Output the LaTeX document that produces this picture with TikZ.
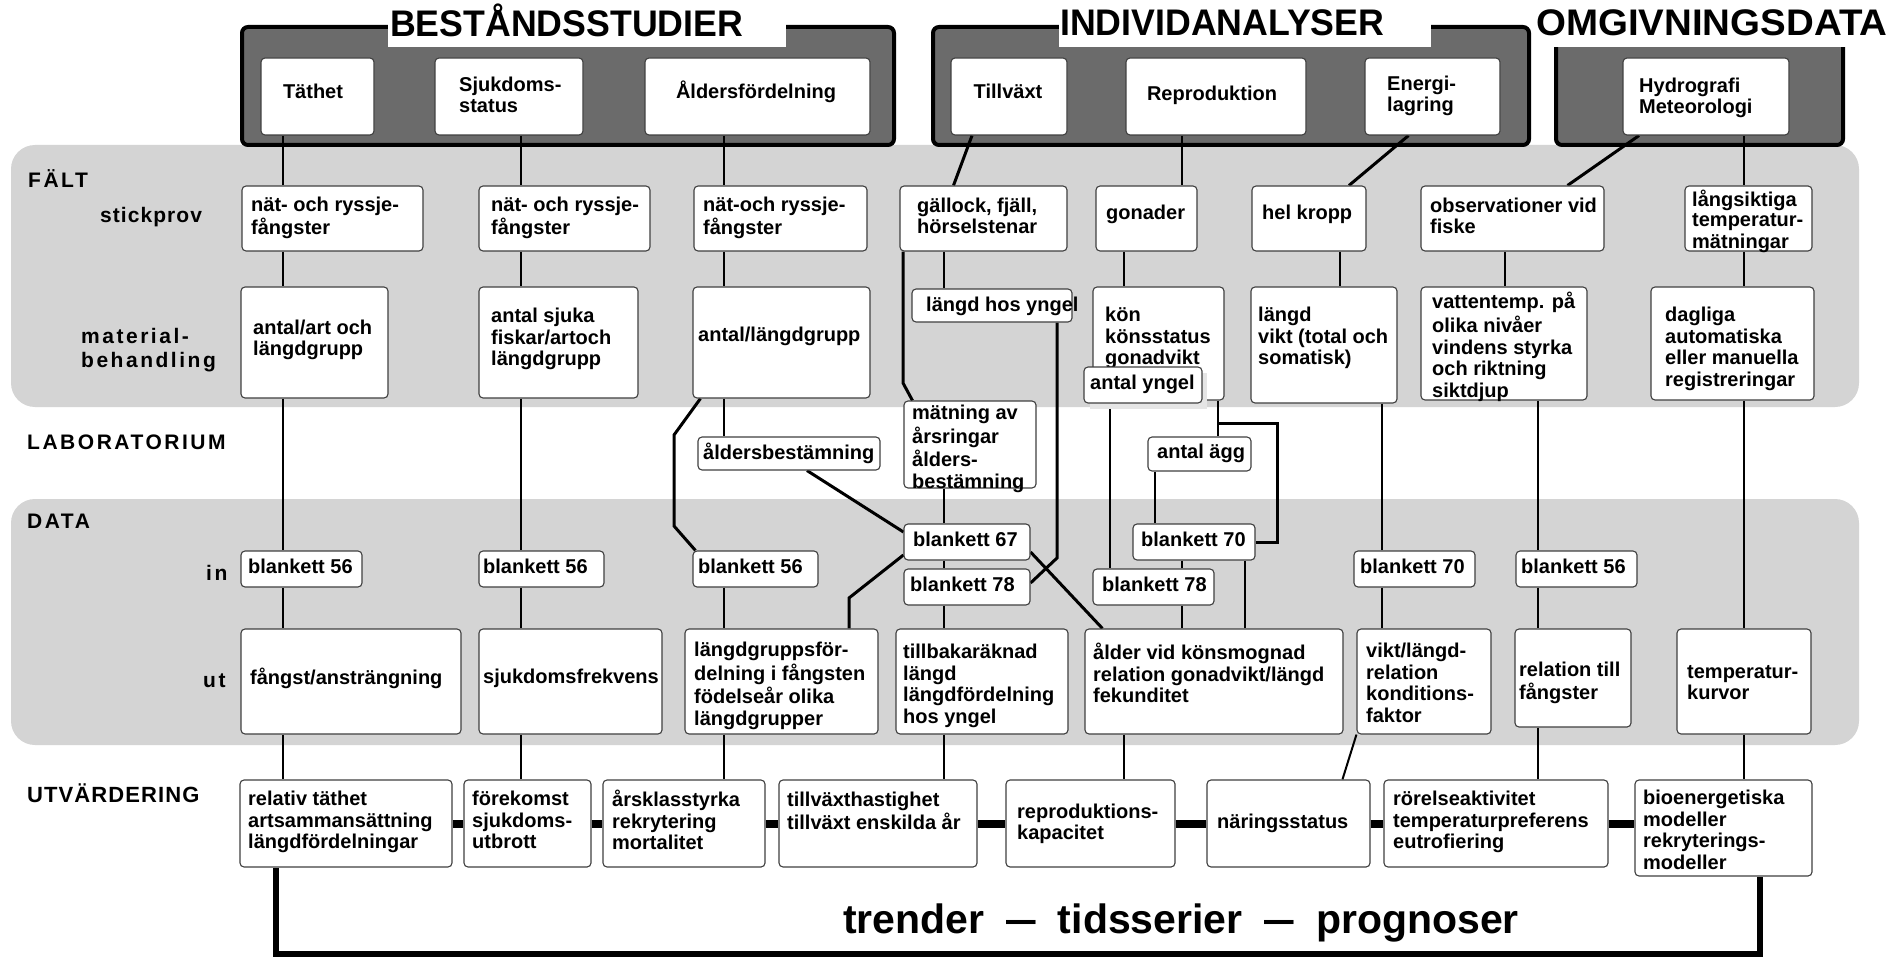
\documentclass[tikz,border=0pt]{standalone}
\usepackage{fontspec}
\usepackage{graphicx}
\setmainfont{Liberation Sans}
\newfontfamily\labfam{Liberation Sans}[LetterSpace=12]
\newfontfamily\labfamb{Liberation Sans}[LetterSpace=5]
\usetikzlibrary{fit,calc}
\pgfdeclarelayer{back}
\pgfdeclarelayer{lines}
\pgfsetlayers{back,lines,main}
\newcommand\txtf{\fontsize{20}{20.5}\selectfont\bfseries}
\newcommand\labf{\labfam\fontsize{21}{24}\selectfont\bfseries}
\newcommand\labfb{\labfamb\fontsize{21}{24}\selectfont\bfseries}
\newcommand\ttlf{\fontsize{37}{37}\selectfont\bfseries}
\newcommand\brk{\\\strut}
\tikzset{
  wbox/.style={draw=black!75, line width=1.1pt, fill=white, rounded corners=4pt, inner sep=0pt},
  txt/.style={inner sep=0pt, align=left, font=\txtf, anchor=west},
  conn/.style={line width=2pt},
  conn2/.style={line width=3pt},
  dark/.style={draw=black, line width=4pt, fill=black!58, rounded corners=6pt, inner sep=0pt},
  band/.style={fill=black!17, rounded corners=24pt},
  ttl/.style={fill=white, inner sep=0pt, font=\ttlf, align=left, anchor=south west},
  lab/.style={inner sep=0pt, font=\labf, anchor=base west},
  bar/.style={line width=8pt},
  bracket/.style={line width=6pt},
}
% #1 style of text, #2 name, #3-#6 box corners, #7 #8 text position, #9 text
\newcommand\tb[9][txt]{%
  \node[wbox, fit={(#3,#4) (#5,#6)}] (#2) {};
  \node[#1] (#2t) at (#7,#8) {#9};}
\begin{document}
\begin{tikzpicture}[x=1pt,y=-1pt]
\useasboundingbox (0,0) rectangle (1899,960);

\begin{pgfonlayer}{back}
  \fill[white] (0,0) rectangle (1899,960);
  \fill[band] (11,145) rectangle (1859,407);
  \fill[band] (11,499) rectangle (1859,745);
  \node[dark, fit={(242,27) (894,145)}] (DA) {};
  \node[dark, fit={(933,27) (1529,145)}] (DB) {};
  \node[dark, fit={(1556,27) (1843,145)}] (DC) {};
  \node[ttl, text width=398pt, text height=37pt, text depth=10pt] (TA) at (388,47)
    {\hspace*{2pt}\scalebox{0.965}[1]{BESTÅNDSSTUDIER}};
  \node[ttl, text width=372pt, text height=36pt, text depth=11pt] (TB) at (1059,47)
    {\hspace*{1pt}\scalebox{0.965}[1]{INDIVIDANALYSER}};
  \node[ttl, text width=364pt, text height=36pt, text depth=11pt] (TC) at (1535,47)
    {\hspace*{1pt}\scalebox{1.04}[1]{OMGIVNINGSDATA}};
\end{pgfonlayer}

% row labels
\node[lab] (LF) at (28,188) {FÄLT};
\node[lab, font=\labfb] (LS) at (100,223) {stickprov};
\node[inner sep=0pt, font=\labf, align=left, anchor=west] (LM) at (81,351) {\strut material-\\\strut behandling};
\node[lab] (LL) at (27,449) {LABORATORIUM};
\node[lab] (LD) at (27,528) {DATA};
\node[lab] (LI) at (206,580) {in};
\node[lab] (LT) at (203,687) {ut};
\node[lab, font=\labfb\fontsize{22}{24}\selectfont] (LU) at (27,802) {UTVÄRDERING};

% title boxes
\tb[txt,anchor=center]{tA1}{261}{58}{374}{135}{313}{94}{\strut Täthet}
\tb{tA2}{435}{58}{583}{135}{459}{98}{\strut Sjukdoms-\brk status}
\tb[txt,anchor=center]{tA3}{645}{58}{870}{135}{756}{93}{\strut Åldersfördelning}
\tb[txt,anchor=center]{tB1}{951}{58}{1067}{135}{1008}{94}{\strut Tillväxt}
\tb[txt,anchor=center]{tB2}{1126}{58}{1306}{135}{1212}{96}{\strut Reproduktion}
\tb{tB3}{1365}{58}{1500}{135}{1387}{97}{\strut Energi-\brk lagring}
\tb{tC1}{1623}{58}{1789}{135}{1639}{99}{\strut Hydrografi\brk Meteorologi}

% stickprov
\tb{s1}{242}{186}{423}{251}{251}{219}{\strut nät- och ryssje-\brk fångster}
\tb{s2}{479}{186}{650}{251}{491}{219}{\strut nät- och ryssje-\brk fångster}
\tb{s3}{694}{186}{867}{251}{703}{219}{\strut nät-och ryssje-\brk fångster}
\tb{s4}{900}{186}{1067}{251}{917}{219}{\strut gällock, fjäll,\brk hörselstenar}
\tb{s5}{1096}{186}{1197}{251}{1106}{215}{\strut gonader}
\tb{s6}{1252}{186}{1366}{251}{1262}{215}{\strut hel kropp}
\tb{s7}{1421}{186}{1604}{251}{1430}{219}{\strut observationer vid\brk fiske}
\tb{s8}{1685}{186}{1812}{251}{1692}{222}{\strut långsiktiga\brk temperatur-\brk mätningar}

% materialbehandling
\tb{m1}{241}{287}{388}{398}{253}{341}{\strut antal/art och\brk längdgrupp}
\tb{m2}{479}{287}{638}{398}{491}{340}{\strut antal sjuka\brk fiskar/artoch\brk längdgrupp}
\tb{m3}{693}{287}{870}{398}{698}{337}{\strut antal/längdgrupp}
\tb{m4}{912}{289}{1072}{322}{926}{307}{\strut längd hos yngel}
\tb{m5}{1093}{287}{1224}{400}{1105}{339}{\strut kön\brk könsstatus\brk gonadvikt}
\fill[black!10] (1090,373) rectangle (1207,409);
\tb{m6}{1084}{367}{1202}{403}{1090}{385}{\strut antal yngel}
\tb{m7}{1251}{287}{1397}{403}{1258}{339}{\strut längd\brk vikt (total och\brk somatisk)}
\tb{m8}{1421}{287}{1587}{400}{1432}{348}{\strut vattentemp. på\brk olika nivåer\brk vindens styrka\brk och riktning\brk siktdjup}
\tb{m9}{1651}{287}{1814}{400}{1665}{350}{\strut dagliga\brk automatiska\brk eller manuella\brk registreringar}

% laboratorium
\tb{l1}{698}{437}{880}{470}{703}{454}{\strut åldersbestämning}
\tb{l2}{904}{401}{1036}{488}{912}{450}{\strut mätning av\brk årsringar\brk ålders-\brk bestämning}
\tb{l3}{1148}{437}{1251}{471}{1157}{454}{\strut antal ägg}

% data in
\tb{d1}{241}{551}{362}{587}{248}{569}{\strut blankett 56}
\tb{d2}{479}{551}{604}{587}{483}{569}{\strut blankett 56}
\tb{d3}{693}{551}{818}{587}{698}{569}{\strut blankett 56}
\tb{d4}{904}{524}{1030}{560}{913}{542}{\strut blankett 67}
\tb{d5}{904}{569}{1030}{605}{910}{587}{\strut blankett 78}
\tb{d6}{1133}{524}{1255}{560}{1141}{542}{\strut blankett 70}
\tb{d7}{1093}{569}{1214}{605}{1102}{587}{\strut blankett 78}
\tb{d8}{1354}{551}{1475}{587}{1360}{569}{\strut blankett 70}
\tb{d9}{1516}{551}{1637}{587}{1521}{569}{\strut blankett 56}

% data ut
\tb{u1}{241}{629}{461}{734}{250}{679}{\strut fångst/ansträngning}
\tb{u2}{479}{629}{662}{734}{483}{679}{\strut sjukdomsfrekvens}
\tb{u3}{685}{629}{878}{734}{694}{687}{\strut längdgruppsför-\brk delning i fångsten\brk födelseår olika\brk längdgrupper}
\tb{u4}{896}{629}{1068}{734}{903}{687}{\strut tillbakaräknad\brk längd\brk längdfördelning\brk hos yngel}
\tb{u5}{1085}{629}{1343}{734}{1093}{676}{\strut ålder vid könsmognad\brk relation gonadvikt/längd\brk fekunditet}
\tb{u6}{1357}{629}{1491}{734}{1366}{686}{\strut vikt/längd-\brk relation\brk konditions-\brk faktor}
\tb{u7}{1515}{629}{1631}{727}{1519}{684}{\strut relation till\brk fångster}
\tb{u8}{1677}{629}{1811}{734}{1687}{685}{\strut temperatur-\brk kurvor}

% utvardering
\tb{v1}{240}{780}{452}{867}{248}{823}{\strut relativ täthet\brk artsammansättning\brk längdfördelningar}
\tb{v2}{464}{780}{591}{867}{472}{823}{\strut förekomst\brk sjukdoms-\brk utbrott}
\tb{v3}{603}{780}{765}{867}{612}{823}{\strut årsklasstyrka\brk rekrytering\brk mortalitet}
\tb{v4}{779}{780}{977}{867}{787}{814}{\strut tillväxthastighet\brk tillväxt enskilda år}
\tb{v5}{1006}{780}{1175}{867}{1017}{825}{\strut reproduktions-\brk kapacitet}
\tb{v6}{1207}{780}{1370}{867}{1217}{824}{\strut näringsstatus}
\tb{v7}{1384}{780}{1608}{867}{1393}{823}{\strut rörelseaktivitet\brk temperaturpreferens\brk eutrofiering}
\tb{v8}{1635}{780}{1812}{876}{1643}{833}{\strut bioenergetiska\brk modeller\brk rekryterings-\brk modeller}

\node[inner sep=0pt, anchor=base, font=\fontsize{41}{41}\selectfont\bfseries] (TR) at (1181,933)
  {trender\hspace{22pt}\scalebox{0.72}[1]{—}\hspace{22pt}tidsserier\hspace{22pt}\scalebox{0.72}[1]{—}\hspace{22pt}prognoser};

% column coordinates
\coordinate (c1) at (283,0);
\coordinate (c2) at (521,0);
\coordinate (c3) at (724,0);
\coordinate (c4a) at (903,0);
\coordinate (c4) at (944,0);
\coordinate (c4y) at (1057,0);
\coordinate (c5y) at (1110,0);
\coordinate (c5g) at (1124,0);
\coordinate (c5e) at (1155,0);
\coordinate (c5r) at (1182,0);
\coordinate (c5a) at (1218,0);
\coordinate (c5c) at (1245,0);
\coordinate (c5b) at (1277,0);
\coordinate (c6) at (1340,0);
\coordinate (c6b) at (1382,0);
\coordinate (c7) at (1505,0);
\coordinate (c7b) at (1538,0);
\coordinate (c8) at (1744,0);
\coordinate (p1) at (674,435);
\coordinate (p2) at (674,526);
\coordinate (p3) at (849,598);
\coordinate (p4) at (903,383);
\coordinate (p5) at (1057,558);
\coordinate (kb) at (1218,423);
\coordinate (bl) at (276,954);
\coordinate (br) at (1760,954);

\begin{pgfonlayer}{lines}
  % column 1
  \draw[conn] (tA1.south -| c1) -- (s1.north -| c1);
  \draw[conn] (s1.south -| c1) -- (m1.north -| c1);
  \draw[conn] (m1.south -| c1) -- (d1.north -| c1);
  \draw[conn] (d1.south -| c1) -- (u1.north -| c1);
  \draw[conn] (u1.south -| c1) -- (v1.north -| c1);
  % column 2
  \draw[conn] (tA2.south -| c2) -- (s2.north -| c2);
  \draw[conn] (s2.south -| c2) -- (m2.north -| c2);
  \draw[conn] (m2.south -| c2) -- (d2.north -| c2);
  \draw[conn] (d2.south -| c2) -- (u2.north -| c2);
  \draw[conn] (u2.south -| c2) -- (v2.north -| c2);
  % column 3
  \draw[conn] (tA3.south -| c3) -- (s3.north -| c3);
  \draw[conn] (s3.south -| c3) -- (m3.north -| c3);
  \draw[conn] (m3.south -| c3) -- (l1.north -| c3);
  \draw[conn2] ([xshift=8pt]m3.south west) -- (p1) -- (p2) -- ([xshift=3pt]d3.north west);
  \draw[conn2] ([xshift=18pt]l1.south) -- ([yshift=10pt]d4.west);
  \draw[conn2] ([yshift=-13pt]d4.west) -- (p3) -- (u3.north -| p3);
  \draw[conn] (d3.south -| c3) -- (u3.north -| c3);
  \draw[conn] (u3.south -| c3) -- (v3.north -| c3);
  % column 4
  \draw[conn2] ([xshift=-37pt]tB1.south) -- ([xshift=-30pt]s4.north);
  \draw[conn2] (s4.south -| c4a) -- (p4) -- ([xshift=9pt]l2.north west);
  \draw[conn] (s4.south -| c4) -- (m4.north -| c4);
  \draw[conn] (l2.south -| c4) -- (d4.north -| c4);
  \draw[conn] (d4.south -| c4) -- (d5.north -| c4);
  \draw[conn] (d5.south -| c4) -- (u4.north -| c4);
  \draw[conn] (u4.south -| c4) -- (v4.north -| c4);
  \draw[conn2] (m4.south -| c4y) -- (p5) -- ([yshift=4pt]d5.east);
  \draw[conn2] ([yshift=-10pt]d4.east) -- ([xshift=18pt]u5.north west);
  % column 5
  \draw[conn] (tB2.south -| c5r) -- (s5.north -| c5r);
  \draw[conn] (s5.south -| c5g) -- (m5.north -| c5g);
  \draw[conn] (m5.south -| c5a) -- (l3.north -| c5a);
  \draw[conn2] (kb) -| (c5b |- d6.east) -- (d6.east);
  \draw[conn] (l3.south -| c5e) -- (d6.north -| c5e);
  \draw[conn] (m6.south -| c5y) -- (d7.north -| c5y);
  \draw[conn] (d6.south -| c5r) -- (d7.north -| c5r);
  \draw[conn] (d7.south -| c5r) -- (u5.north -| c5r);
  \draw[conn] (d6.south -| c5c) -- (u5.north -| c5c);
  \draw[conn] (u5.south -| c5g) -- (v5.north -| c5g);
  % column 6
  \draw[conn2] ([xshift=-24pt]tB3.south) -- ([xshift=40pt]s6.north);
  \draw[conn] (s6.south -| c6) -- (m7.north -| c6);
  \draw[conn] (m7.south -| c6b) -- (d8.north -| c6b);
  \draw[conn] (d8.south -| c6b) -- (u6.north -| c6b);
  \draw[conn] (u6.south west) -- ([xshift=136pt]v6.north west);
  % column 7
  \draw[conn2] ([xshift=-67pt]tC1.south) -- ([xshift=55pt]s7.north);
  \draw[conn] (s7.south -| c7) -- (m8.north -| c7);
  \draw[conn] (m8.south -| c7b) -- (d9.north -| c7b);
  \draw[conn] (d9.south -| c7b) -- (u7.north -| c7b);
  \draw[conn] (u7.south -| c7b) -- (v7.north -| c7b);
  % column 8
  \draw[conn] (tC1.south -| c8) -- (s8.north -| c8);
  \draw[conn] (s8.south -| c8) -- (m9.north -| c8);
  \draw[conn] (m9.south -| c8) -- (u8.north -| c8);
  \draw[conn] (u8.south -| c8) -- (v8.north -| c8);
  % evaluation bars
  \draw[bar] (v1.east) -- (v2.west);
  \draw[bar] (v2.east) -- (v3.west);
  \draw[bar] (v3.east) -- (v4.west);
  \draw[bar] (v4.east) -- (v5.west);
  \draw[bar] (v5.east) -- (v6.west);
  \draw[bar] (v6.east) -- (v7.west);
  \draw[bar] (v7.east) -- (v7.east -| v8.west);
  \draw[bracket] (v1.south -| bl) -- (bl) -- (br) -- (v8.south -| br);
\end{pgfonlayer}
\end{tikzpicture}
\end{document}
